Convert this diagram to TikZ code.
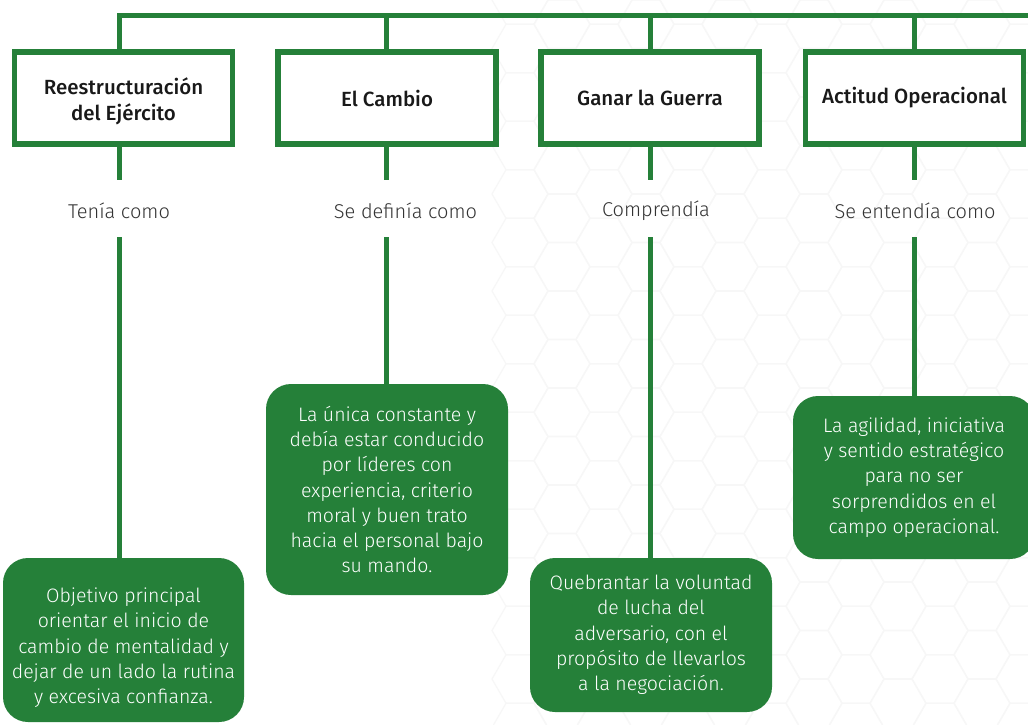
\documentclass[tikz,border=0pt]{standalone}
\usepackage{fontspec}
\setmainfont{Fira Sans}[UprightFont=* Light, BoldFont=* Medium]
\definecolor{armygreen}{RGB}{37,128,57}
\begin{document}
\begin{tikzpicture}[x=1pt,y=-1pt,
  conn/.style={draw=armygreen,line width=5pt},
  head/.style={draw=armygreen,line width=5.5pt,fill=white,minimum width=218pt,minimum height=92pt,align=center,inner sep=0pt,font=\bfseries\fontsize{20.5}{25.5}\selectfont,text=black!90},
  lbl/.style={font=\fontsize{20}{25}\selectfont,text=black!80,inner sep=0pt},
  desc/.style={fill=armygreen,rounded corners=25pt,align=center,text=white,inner sep=0pt,font=\fontsize{19.5}{25.3}\selectfont},
  hexa/.style={draw=black!3,line width=1.2pt}]
\useasboundingbox (0,0) rectangle (1028,724);
\clip (0,0) rectangle (1028,724);
\fill[white] (0,0) rectangle (1028,724);
% faint hexagon background
\foreach \i in {0,...,14}{
  \foreach \j in {0,...,16}{
    \pgfmathsetmacro{\cx}{520+\i*42}
    \pgfmathsetmacro{\cy}{\j*48.5+mod(\i,2)*24.25}
    \draw[hexa] (\cx,\cy) +(0:28) -- +(60:28) -- +(120:28) -- +(180:28) -- +(240:28) -- +(300:28) -- cycle;
  }
}
% header boxes
\node[head] (h1) at (123.5,98) {\rule{0pt}{23pt}Reestructuración\\del Ejército};
\node[head] (h2) at (387,98) {El Cambio};
\node[head] (h3) at (650,98) {Ganar la Guerra};
\node[head] (h4) at (914.5,98) {Actitud Operacional};
% labels
\node[lbl] (l1) at (119,211) {Tenía como};
\node[lbl] (l2) at (405.5,211) {Se definía como};
\node[lbl] (l3) at (656,211) {Comprendía};
\node[lbl] (l4) at (915,211) {Se entendía como};
% description boxes
\node[desc,minimum width=241pt,minimum height=164pt] (d1) at (123.5,640) {\rule{0pt}{30pt}Objetivo principal\\orientar el inicio de\\cambio de mentalidad y\\dejar de un lado la rutina\\y excesiva confianza.};
\node[desc,minimum width=242pt,minimum height=211pt] (d2) at (387,489.5) {La única constante y\\debía estar conducido\\por líderes con\\experiencia, criterio\\moral y buen trato\\hacia el personal bajo\\su mando.};
\node[desc,minimum width=242pt,minimum height=154pt] (d3) at (651,635) {Quebrantar la voluntad\\de lucha del\\adversario, con el\\propósito de llevarlos\\a la negociación.};
\node[desc,minimum width=242pt,minimum height=163pt] (d4) at (914,477.5) {La agilidad, iniciativa\\y sentido estratégico\\para no ser\\sorprendidos en el\\campo operacional.};
% top bar
\coordinate (t1) at (119,15.5);
\coordinate (tend) at (1035,15.5);
\coordinate (t2) at (386,15.5);
\coordinate (t3) at (650.5,15.5);
\coordinate (t4) at (914.5,15.5);
\draw[conn] (t1 |- h1.north) -- (t1) -- (tend);
\draw[conn] (t2) -- (t2 |- h2.north);
\draw[conn] (t3) -- (t3 |- h3.north);
\draw[conn] (t4) -- (t4 |- h4.north);
% verticals
\coordinate (a1) at (119,180); \coordinate (b1) at (119,237);
\coordinate (a2) at (386,180); \coordinate (b2) at (386,237);
\coordinate (a3) at (650.5,180); \coordinate (b3) at (650.5,237);
\coordinate (a4) at (914.5,180); \coordinate (b4) at (914.5,237);
\draw[conn] (a1 |- h1.south) -- (a1);
\draw[conn] (b1) -- (b1 |- d1.north);
\draw[conn] (a2 |- h2.south) -- (a2);
\draw[conn] (b2) -- (b2 |- d2.north);
\draw[conn] (a3 |- h3.south) -- (a3);
\draw[conn] (b3) -- (b3 |- d3.north);
\draw[conn] (a4 |- h4.south) -- (a4);
\draw[conn] (b4) -- (b4 |- d4.north);
\end{tikzpicture}
\end{document}
